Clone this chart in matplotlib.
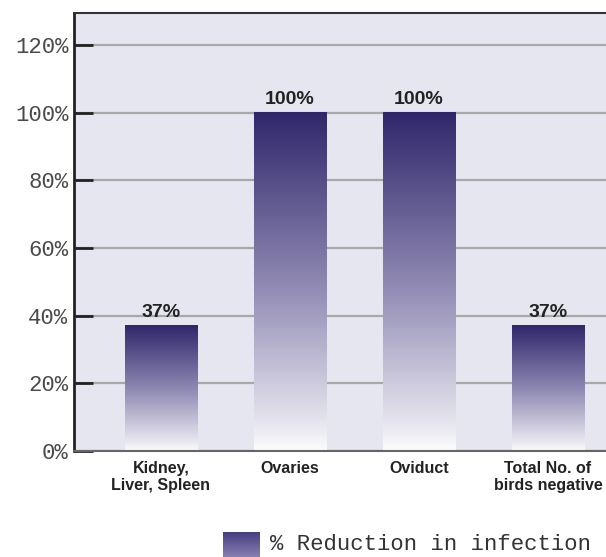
import matplotlib.pyplot as plt
import numpy as np
from matplotlib.colors import LinearSegmentedColormap

# data
categories = ["Kidney,\nLiver, Spleen", "Ovaries", "Oviduct",
              "Total No. of\nbirds negative"]
reduction = [37, 100, 100, 37]
value_labels = ["37%", "100%", "100%", "37%"]
yticks = [0, 20, 40, 60, 80, 100, 120]
ytick_labels = ["0%", "20%", "40%", "60%", "80%", "100%", "120%"]
legend_label = "% Reduction in infection"

# navy-to-white fade used for each bar
fade = LinearSegmentedColormap.from_list(
    "fade", [(0.0, "#fbfbfd"), (0.1, "#e2e1eb"), (0.5, "#8d87b2"),
             (1.0, "#30276a")])
grad = np.linspace(0, 1, 256).reshape(-1, 1)

fig = plt.figure(figsize=(6.06, 5.57), dpi=100)
ax = fig.add_axes([74 / 606, 106 / 557, 1.1, 438 / 557])
ax.set_facecolor("#e6e6f0")

bar_w = 0.56
x = np.arange(len(categories))
ax.set_xlim(-0.674, -0.674 + 1.1 * 606 / 129)
ax.set_ylim(0, 129.5)

ax.set_yticks(yticks)
ax.set_yticklabels(ytick_labels, family="Liberation Mono", fontsize=16,
                   color="#4a4a4a")
ax.yaxis.grid(True, color="#a8a8a8", linewidth=1.6)
ax.set_axisbelow(True)
ax.tick_params(axis="y", direction="in", length=14, width=2,
               color="#222222", pad=4)

bars = ax.bar(x, reduction, width=bar_w, color="none", zorder=2)
for b, val, lab in zip(bars, reduction, value_labels):
    x0 = b.get_x()
    ax.imshow(grad, origin="lower", cmap=fade, aspect="auto",
              extent=(x0, x0 + bar_w, 0, val), zorder=2)
    ax.text(x0 + bar_w / 2, val + 1.5, lab, ha="center", va="bottom",
            family="Liberation Sans", fontweight="bold", fontsize=14,
            color="#222222")

ax.set_xticks(x)
ax.set_xticklabels(categories, family="Liberation Sans", fontweight="bold",
                   fontsize=11.5, color="#222222", linespacing=1.2)
ax.tick_params(axis="x", length=0, pad=7)

ax.spines["left"].set_color("#222222")
ax.spines["left"].set_linewidth(2)
ax.spines["top"].set_color("#333333")
ax.spines["top"].set_linewidth(1.5)
ax.spines["bottom"].set_color("#666666")
ax.spines["bottom"].set_linewidth(1.5)
ax.spines["right"].set_visible(False)

# legend swatch and label
sw = fig.add_axes([223 / 606, 0, 37 / 606, 25 / 557])
sw.imshow(grad, origin="lower", aspect="auto",
          cmap=LinearSegmentedColormap.from_list(
              "sw", ["#8880b0", "#463d82"]))
sw.axis("off")
fig.text(270 / 606, 12 / 557, legend_label, family="Liberation Mono",
         fontsize=16, color="#333333", va="center", ha="left")

fig.savefig("out.png", dpi=100)
